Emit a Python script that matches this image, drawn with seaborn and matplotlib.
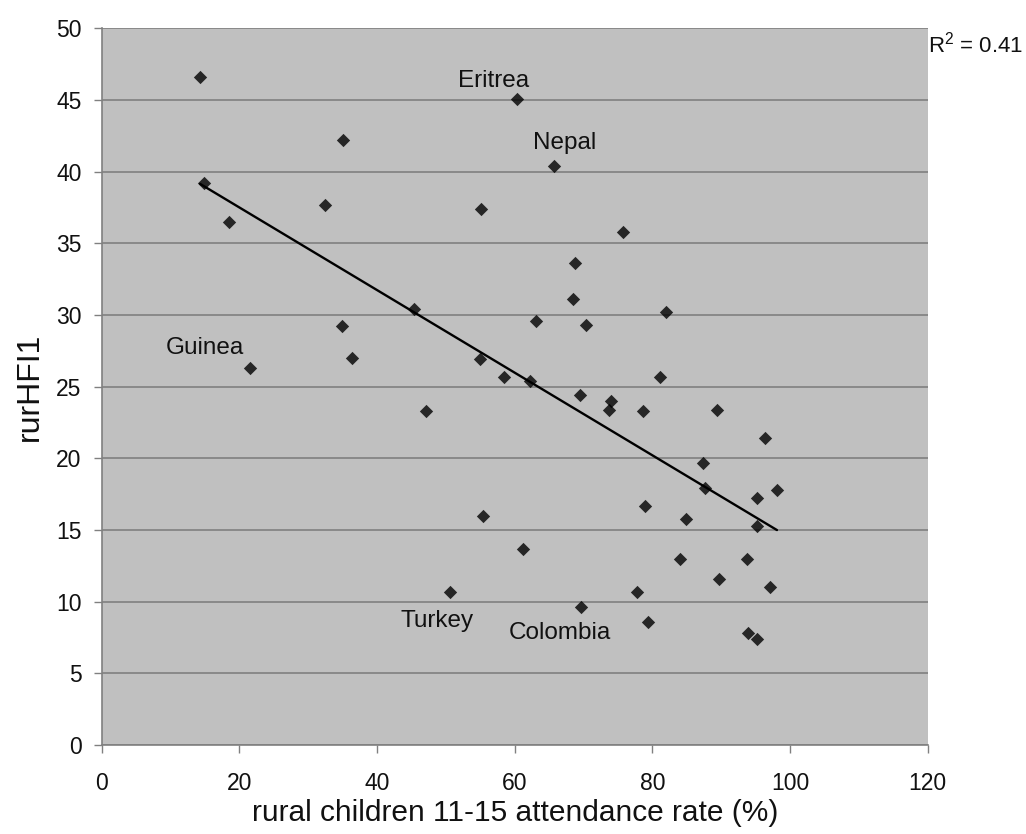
import numpy as np
import pandas as pd
import matplotlib
matplotlib.use("Agg")
import matplotlib.pyplot as plt
import seaborn as sns

# attendance rate (%) vs rurHFI1, one point per country
attendance = [14.3, 35.1, 14.9, 18.5, 32.5, 55.1, 45.4, 34.9, 36.3, 21.5,
              54.9, 58.5, 47.1, 60.3, 65.7, 75.7, 68.8, 68.5, 63.1, 70.3,
              82.0, 62.2, 81.1, 69.5, 74.0, 73.7, 78.6, 89.4, 96.3, 87.4,
              87.7, 98.1, 95.2, 78.9, 55.4, 84.9, 95.2, 61.2, 84.0, 93.7,
              89.7, 97.1, 50.6, 77.7, 69.7, 79.4, 93.9, 95.2]
rur_hfi = [46.6, 42.2, 39.2, 36.5, 37.7, 37.4, 30.4, 29.2, 27.0, 26.3,
           26.9, 25.7, 23.3, 45.1, 40.4, 35.8, 33.6, 31.1, 29.6, 29.3,
           30.2, 25.4, 25.7, 24.4, 24.0, 23.4, 23.3, 23.4, 21.4, 19.7,
           17.9, 17.8, 17.2, 16.7, 16.0, 15.8, 15.3, 13.7, 13.0, 13.0,
           11.6, 11.0, 10.7, 10.7, 9.6, 8.6, 7.8, 7.4]

# labelled countries (text baseline positions)
label_names = ["Eritrea", "Nepal", "Guinea", "Turkey", "Colombia"]
label_x = [56.9, 67.3, 15.0, 48.7, 66.6]
label_y = [45.9, 41.55, 27.3, 8.2, 7.4]

df = pd.DataFrame({"attendance": attendance, "rurHFI1": rur_hfi})

sns.set_style("white", {
    "axes.facecolor": "#c0c0c0",
    "axes.edgecolor": "#808080",
    "grid.color": "#808080",
    "text.color": "#111111",
    "axes.labelcolor": "#111111",
    "xtick.color": "#111111",
    "ytick.color": "#111111",
})
plt.rcParams["font.family"] = ["Liberation Sans", "DejaVu Sans"]
plt.rcParams["mathtext.fontset"] = "custom"
plt.rcParams["mathtext.rm"] = "Liberation Sans"

fig = plt.figure(figsize=(10.26, 8.34), dpi=100)
ax = fig.add_axes([0.0991, 0.1067, 0.8051, 0.8593])

sns.regplot(data=df, x="attendance", y="rurHFI1", ci=None, ax=ax,
            marker="D", color="black",
            scatter_kws={"s": 46, "linewidths": 0, "zorder": 3},
            line_kws={"color": "black", "linewidth": 1.7, "zorder": 2})

ax.set_xlim(0, 120)
ax.set_ylim(0, 50)
ax.set_xticks(np.arange(0, 121, 20))
ax.set_yticks(np.arange(0, 51, 5))
ax.yaxis.grid(True, color="#808080", linewidth=1.2)
ax.xaxis.grid(False)
ax.set_axisbelow(True)

for side in ["top", "right"]:
    ax.spines[side].set_visible(False)
for side in ["left", "bottom"]:
    ax.spines[side].set_color("#808080")
    ax.spines[side].set_linewidth(1.2)

ax.tick_params(axis="x", direction="out", length=5.5, width=1, color="#808080",
               labelsize=16.5, pad=14, bottom=True)
ax.tick_params(axis="y", direction="out", length=5.5, width=1, color="#808080",
               labelsize=16.5, pad=9, left=True)

ax.set_xlabel("rural children 11-15 attendance rate (%)", fontsize=21.5, labelpad=3)
ax.set_ylabel("rurHFI1", fontsize=23, labelpad=8)

for name, tx, ty in zip(label_names, label_x, label_y):
    ax.text(tx, ty, name, ha="center", va="baseline", fontsize=17.5)

fig.text(928 / 1026, 1 - 53 / 834, r"R$^2$ = 0.41", ha="left", va="baseline", fontsize=16)

fig.savefig("out.png", dpi=100)
